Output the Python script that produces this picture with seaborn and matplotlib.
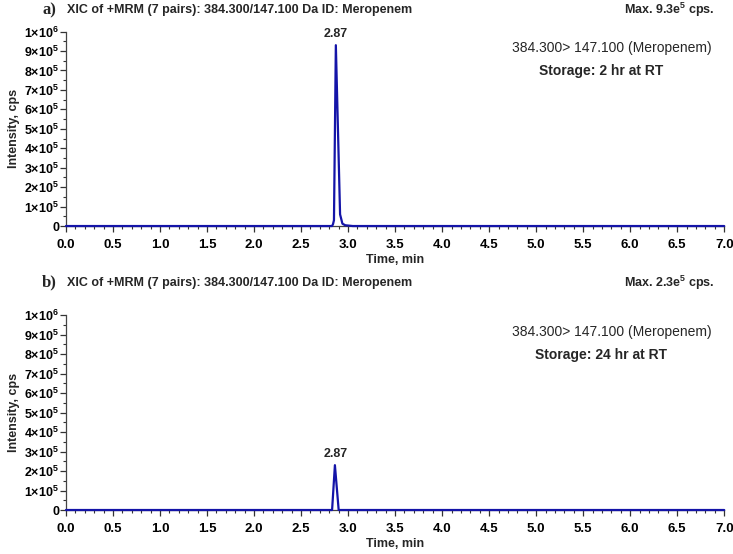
import numpy as np
import pandas as pd
import seaborn as sns
import matplotlib.pyplot as plt
from matplotlib.ticker import MultipleLocator, FuncFormatter

# retention time (min) and intensity (cps)
time_a = [0.0, 2.83, 2.84, 2.85, 2.87, 2.915, 2.94, 2.97, 3.05, 7.0]
cps_a = [0, 0, 1.0e4, 3.0e4, 9.3e5, 6.0e4, 1.2e4, 4.0e3, 0, 0]
time_b = [0.0, 2.83, 2.86, 2.90, 7.0]
cps_b = [0, 0, 2.3e5, 0, 0]

panels = ["a)", "b)"]
max_text = [r"Max. 9.3e$^{5}$ cps.", r"Max. 2.3e$^{5}$ cps."]
storage = ["Storage: 2 hr at RT", "Storage: 24 hr at RT"]
peak_rt = [2.87, 2.87]
peak_h = [9.3e5, 2.3e5]
header_y = [1.11, 1.165]

sns.set_style("ticks")
plt.rcParams['font.family'] = ['Liberation Sans', 'DejaVu Sans']
plt.rcParams['mathtext.fontset'] = 'custom'
plt.rcParams['mathtext.rm'] = 'Liberation Sans:bold'
plt.rcParams['mathtext.bf'] = 'Liberation Sans:bold'
plt.rcParams['mathtext.it'] = 'Liberation Sans:bold'


def sci_fmt(v, pos):
    if abs(v) < 1:
        return "0"
    if v < 0:
        return ""
    exp = int(np.floor(np.log10(v) + 1e-9))
    mant = int(round(v / 10 ** exp))
    return r"$%d{\times}10^{%d}$" % (mant, exp)


fig = plt.figure(figsize=(7.33, 5.54), dpi=100)
ax_a = fig.add_axes([0.090, 0.592, 0.898, 0.351])
ax_b = fig.add_axes([0.090, 0.0794, 0.898, 0.352])

data = [pd.DataFrame({"time": time_a, "cps": cps_a}),
        pd.DataFrame({"time": time_b, "cps": cps_b})]

for i, (ax, df) in enumerate(zip([ax_a, ax_b], data)):
    sns.lineplot(data=df, x="time", y="cps", ax=ax, color="#1414a8",
                 linewidth=1.6, clip_on=False, zorder=5)
    ax.set_xlim(0, 7.0)
    ax.set_ylim(0, 1e6)
    sns.despine(ax=ax)
    ax.xaxis.set_major_locator(MultipleLocator(0.5))
    ax.xaxis.set_minor_locator(MultipleLocator(0.1))
    ax.yaxis.set_major_locator(MultipleLocator(1e5))
    ax.yaxis.set_minor_locator(MultipleLocator(5e4))
    ax.xaxis.set_major_formatter(FuncFormatter(lambda v, p: f"{v:.1f}"))
    ax.yaxis.set_major_formatter(FuncFormatter(sci_fmt))
    ax.tick_params(which="major", length=4, width=0.9, labelsize=9,
                   colors="#333333", labelcolor="black", pad=1)
    ax.tick_params(which="minor", length=2.5, width=0.8, colors="#333333")
    ax.tick_params(axis="x", which="major", pad=5, labelsize=9.5)
    for lab in ax.get_xticklabels() + ax.get_yticklabels():
        lab.set_fontweight("bold")
    for s in ["left", "bottom"]:
        ax.spines[s].set_color("#444444")
        ax.spines[s].set_linewidth(0.9)

    ax.set_xlabel("Time, min", fontsize=9, fontweight="bold")
    ax.xaxis.set_label_coords(0.5, -0.145)
    ax.set_ylabel("Intensity, cps", fontsize=9, fontweight="bold")
    ax.yaxis.set_label_coords(-0.07, 0.5)

    # peak label
    ax.text(peak_rt[i], peak_h[i] + 2.5e4, f"{peak_rt[i]:.2f}", ha="center",
            va="bottom", fontsize=9, fontweight="bold")

    # header
    ax.text(-0.036, header_y[i], panels[i], transform=ax.transAxes, fontsize=12,
            fontweight="bold", family="Liberation Serif", va="center", ha="left")
    ax.text(0.002, header_y[i], "XIC of +MRM (7 pairs): 384.300/147.100 Da ID: Meropenem",
            transform=ax.transAxes, fontsize=9, fontweight="bold", va="center", ha="left")
    ax.text(0.986, header_y[i], max_text[i], transform=ax.transAxes, fontsize=9,
            fontweight="bold", va="center", ha="right")

    # annotation box
    ax.text(0.83, 0.915, "384.300> 147.100 (Meropenem)", transform=ax.transAxes,
            fontsize=10, va="center", ha="center")
    ax.text(0.813, 0.795, storage[i], transform=ax.transAxes,
            fontsize=10, fontweight="bold", va="center", ha="center")

fig.savefig("out.png", dpi=100)
